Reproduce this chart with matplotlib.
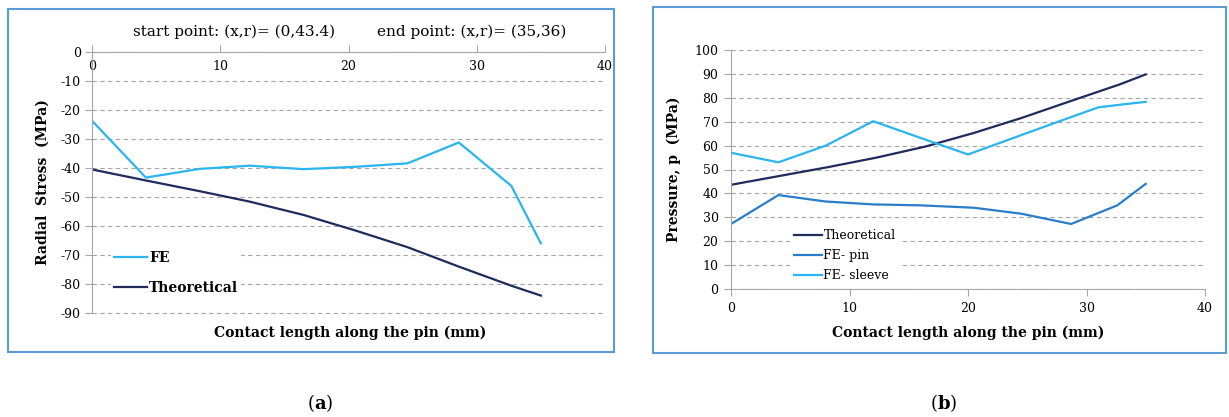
import numpy as np
import matplotlib
matplotlib.use('Agg')
from matplotlib import pyplot as plt
from matplotlib.patches import Rectangle

plt.rcParams['font.family'] = 'DejaVu Serif'
plt.rcParams['axes.unicode_minus'] = False
plt.rcParams['mathtext.fontset'] = 'custom'
plt.rcParams['mathtext.rm'] = 'DejaVu Serif'
plt.rcParams['mathtext.bf'] = 'DejaVu Serif:bold'

# (a) radial stress along the pin
xa = [0, 4.2, 8.4, 12.3, 16.5, 20.5, 24.6, 28.6, 32.7, 35]
fe_a = [-23.7, -43.3, -40.3, -39.2, -40.4, -39.6, -38.4, -31.2, -46.2, -66.0]
theo_a = [-40.5, -44.3, -48.0, -51.6, -56.2, -61.5, -67.3, -74.0, -80.6, -84.0]

# (b) contact pressure
xb_theo = [0, 4.1, 8.2, 12.3, 16.4, 20.5, 24.6, 28.7, 32.8, 35]
theo_b = [43.6, 47.3, 51.0, 55.0, 59.6, 65.3, 71.7, 78.7, 85.6, 89.8]
xb_pin = [0, 4, 8, 12, 16, 20.5, 24.5, 28.7, 32.6, 35]
pin_b = [27.2, 39.3, 36.6, 35.4, 35.0, 34.0, 31.5, 27.2, 35.0, 44.0]
xb_sleeve = [0, 4, 8, 12, 16, 20, 24, 28, 31, 33, 35]
sleeve_b = [57.0, 53.0, 60.0, 70.2, 63.2, 56.3, 63.5, 70.7, 76.0, 77.2, 78.3]

light = '#29B5EF'
navy = '#1F2B5B'
mid = '#2A7DC9'
grey = '#A6A6A6'
border = '#5B9BD5'

fig = plt.figure(figsize=(12.29, 4.17), dpi=100)
W, H = 1229, 417

def fx(px):
    return px / W

def fy(py):
    return 1 - py / H

# panel frames
fig.patches.append(Rectangle((fx(8), fy(352)), fx(606), 343 / H, transform=fig.transFigure,
                             fill=False, edgecolor=border, lw=1.5))
fig.patches.append(Rectangle((fx(653), fy(353)), fx(573), 346 / H, transform=fig.transFigure,
                             fill=False, edgecolor=border, lw=1.5))

# ---- left panel
ax1 = fig.add_axes([fx(92), fy(313), fx(513), 261 / H])
ax1.plot(xa, fe_a, color=light, lw=1.6, label='FE')
ax1.plot(xa, theo_a, color=navy, lw=1.6, label='Theoretical')
ax1.set_xlim(0, 40)
ax1.set_ylim(-90, 0)
ax1.set_xticks(np.arange(0, 41, 10))
ax1.set_yticks(np.arange(-90, 1, 10))
for s in ['top', 'right']:
    ax1.spines[s].set_visible(False)
ax1.spines['bottom'].set_position(('data', 0))
ax1.spines['bottom'].set_color(grey)
ax1.spines['left'].set_color(grey)
ax1.tick_params(axis='x', direction='in', length=5, color=grey, labelsize=9, pad=6)
ax1.tick_params(axis='y', direction='out', length=5, color=grey, labelsize=9, pad=3)
ax1.grid(axis='y', color=grey, linestyle=(0, (4, 3)), lw=0.8)
for gl in ax1.get_ygridlines():
    gl.set_clip_on(False)
ax1.set_axisbelow(True)
ax1.set_ylabel('Radial  Stress  (MPa)', fontsize=10, fontweight='bold', labelpad=8)
ax1.text(0.503, -0.075, 'Contact length along the pin (mm)', transform=ax1.transAxes,
         ha='center', va='center', fontsize=10, fontweight='bold')
leg1 = ax1.legend(loc='upper left', bbox_to_anchor=(0.038, 0.25), frameon=True,
                  handlelength=2.35, handletextpad=0.15, labelspacing=1.15,
                  borderaxespad=0, borderpad=0.2, prop={'weight': 'bold', 'size': 10})
leg1.get_frame().set_facecolor('white')
leg1.get_frame().set_edgecolor('none')
leg1.get_frame().set_alpha(1)

fig.text(fx(234), fy(32), 'start point: (x,r)= (0,43.4)', ha='center', va='center', fontsize=11)
fig.text(fx(472), fy(32), 'end point: (x,r)= (35,36)', ha='center', va='center', fontsize=11)

# ---- right panel
ax2 = fig.add_axes([fx(731), fy(289), fx(474), 239 / H])
ax2.plot(xb_theo, theo_b, color=navy, lw=1.6, label='Theoretical')
ax2.plot(xb_pin, pin_b, color=mid, lw=1.6, label='FE- pin')
ax2.plot(xb_sleeve, sleeve_b, color=light, lw=1.6, label='FE- sleeve')
ax2.set_xlim(0, 40)
ax2.set_ylim(0, 100)
ax2.set_xticks(np.arange(0, 41, 10))
ax2.set_yticks(np.arange(0, 101, 10))
for s in ['top', 'right']:
    ax2.spines[s].set_visible(False)
ax2.spines['bottom'].set_color(grey)
ax2.spines['left'].set_color(grey)
ax2.tick_params(axis='both', direction='out', length=5, color=grey, labelsize=9, pad=4)
ax2.grid(axis='y', color=grey, linestyle=(0, (4, 3)), lw=0.8)
ax2.set_axisbelow(True)
ax2.set_ylabel('Pressure, p  (MPa)', fontsize=10, fontweight='bold', labelpad=10)
ax2.set_xlabel('Contact length along the pin (mm)', fontsize=10, fontweight='bold', labelpad=8)
leg2 = ax2.legend(loc='upper left', bbox_to_anchor=(0.125, 0.265), frameon=True,
                  handlelength=2.2, handletextpad=0.15, labelspacing=0.55,
                  borderaxespad=0, borderpad=0.3, prop={'size': 9})
leg2.get_frame().set_facecolor('white')
leg2.get_frame().set_edgecolor('none')
leg2.get_frame().set_alpha(1)

fig.text(fx(320), fy(403), r'($\mathbf{a}$)', ha='center', va='center', fontsize=13)
fig.text(fx(944), fy(403), r'($\mathbf{b}$)', ha='center', va='center', fontsize=13)

fig.savefig('out.png', dpi=100)
